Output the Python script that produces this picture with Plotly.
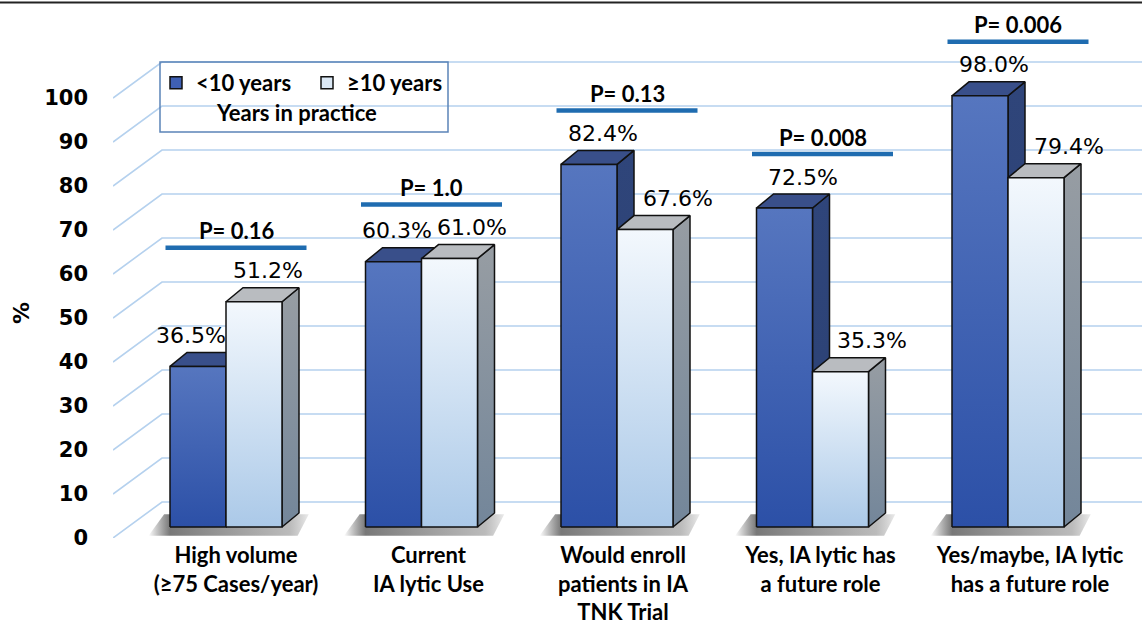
import plotly.graph_objects as go

# ---------------- data ----------------
categories = [
    "High volume<br>(≥75 Cases/year)",
    "Current<br>IA lytic Use",
    "Would enroll<br>patients in IA<br>TNK Trial",
    "Yes, IA lytic has<br>a future role",
    "Yes/maybe, IA lytic<br>has a future role",
]
under10 = [36.5, 60.3, 82.4, 72.5, 98.0]
over10 = [51.2, 61.0, 67.6, 35.3, 79.4]
p_values = ["P= 0.16", "P= 1.0", "P= 0.13", "P= 0.008", "P= 0.006"]
series_names = ["<10 years", "≥10 years"]
legend_title = "Years in practice"
y_ticks = list(range(0, 101, 10))

# ---------------- geometry / style ----------------
W, H = 1142, 627
L, T, B = 113, 5, 538           # plot area edges in px
PX_Y = 4.4                      # px per % unit
PX_X = 195.5                    # px per category
Y_TOP = (B - T) / PX_Y
X0 = -(226 - L) / PX_X
X1 = X0 + (W - L) / PX_X

BAR_W = 56 / PX_X
BASE = 11 / PX_Y                # bars sit a bit behind the front edge of floor
DDX, DDY = 17 / PX_X, 14 / PX_Y  # bar depth
WALL_DX, WALL_DY = 49 / PX_X, 36 / PX_Y
P_GAP = 54 / PX_Y
P_DX = 10 / PX_X
P_HALF = 70.5 / PX_X

label_xshift = [[-7, 3, 14, 18, 14], [14, 22, 33, 31, 33]]
cat_label_shift_px = [10, 7, 6, 8, 22]

styles = [
    dict(front_top="#5676bf", front_bot="#2c50a7", top="#394f8a", side_top="#2f457a", side_bot="#2b4174",
         legend="#3f60b4"),
    dict(front_top="#f3f8fd", front_bot="#abc9e8", top="#b9bcc0", side_top="#979da3", side_bot="#73869a",
         legend="#dbe8f5"),
]
OUTLINE = dict(color="#111111", width=1.5)

fig = go.Figure()

# back wall / side wall gridlines
gx, gy = [], []
for v in y_ticks:
    gx += [X0, X0 + WALL_DX, X1, None]
    gy += [v, v + WALL_DY, v + WALL_DY, None]
fig.add_trace(go.Scatter(x=gx, y=gy, mode="lines", line=dict(color="#b5d1ee", width=1.6),
                         hoverinfo="skip", showlegend=False))

# floor shadows under each group
for i in range(len(categories)):
    xl, xr = i - BAR_W, i + BAR_W
    sx = [xl - 0.11, xr + 0.08, xr + DDX + 0.05, xl - 0.03, xl - 0.11]
    sy = [0.5, 0.5, BASE + DDY - 0.3, BASE + DDY - 0.3, 0.5]
    fig.add_trace(go.Scatter(
        x=sx, y=sy, mode="lines", fill="toself", line=dict(width=0, color="rgba(0,0,0,0)"),
        fillgradient=dict(type="horizontal", start=xl - 0.11, stop=xr + DDX + 0.08,
                          colorscale=[[0, "rgba(0,0,0,0)"], [0.13, "rgba(30,30,30,0.6)"],
                                      [0.85, "rgba(60,60,60,0.35)"], [1, "rgba(0,0,0,0)"]]),
        hoverinfo="skip", showlegend=False))


def add_bar(xl, v, st):
    xr = xl + BAR_W
    top = BASE + v
    # side face
    fig.add_trace(go.Scatter(
        x=[xr, xr + DDX, xr + DDX, xr, xr], y=[BASE, BASE + DDY, top + DDY, top, BASE],
        mode="lines", fill="toself", line=OUTLINE,
        fillgradient=dict(type="vertical", start=BASE, stop=top + DDY,
                          colorscale=[[0, st["side_bot"]], [1, st["side_top"]]]),
        hoverinfo="skip", showlegend=False))
    # top face
    fig.add_trace(go.Scatter(
        x=[xl, xr, xr + DDX, xl + DDX, xl], y=[top, top, top + DDY, top + DDY, top],
        mode="lines", fill="toself", fillcolor=st["top"], line=OUTLINE,
        hoverinfo="skip", showlegend=False))
    # front face
    fig.add_trace(go.Scatter(
        x=[xl, xr, xr, xl, xl], y=[BASE, BASE, top, top, BASE],
        mode="lines", fill="toself", line=OUTLINE,
        fillgradient=dict(type="vertical", start=BASE, stop=top,
                          colorscale=[[0, st["front_bot"]], [1, st["front_top"]]]),
        hovertemplate="%{text}<extra></extra>", text=[f"{v:.1f}%"] * 5,
        showlegend=False))


for i in range(len(categories)):
    add_bar(i - BAR_W, under10[i], styles[0])
    add_bar(i, over10[i], styles[1])

# legend entries
for j, name in enumerate(series_names):
    fig.add_trace(go.Bar(x=[None], y=[None], name=name,
                         marker=dict(color=styles[j]["legend"], line=dict(color="#111111", width=1.5))))

annotations = []
# value labels
for j, series in enumerate([under10, over10]):
    for i, v in enumerate(series):
        xc = i - BAR_W / 2 if j == 0 else i + BAR_W / 2
        annotations.append(dict(x=xc, y=BASE + v, text=f"{v:.1f}%", showarrow=False,
                                xshift=label_xshift[j][i], yshift=31,
                                xanchor="center", yanchor="middle",
                                font=dict(family="DejaVu Sans", size=22, color="black")))

# p-value lines and labels
for i, p in enumerate(p_values):
    xc = i + P_DX
    yl = BASE + max(under10[i], over10[i]) + P_GAP
    fig.add_trace(go.Scatter(x=[xc - P_HALF, xc + P_HALF], y=[yl, yl], mode="lines",
                             line=dict(color="#1f6cb0", width=4.5), hoverinfo="skip", showlegend=False))
    annotations.append(dict(x=xc, y=yl, text=p, showarrow=False, yshift=17,
                            xanchor="center", yanchor="middle",
                            font=dict(family="Lato", size=22, color="black", weight="bold")))


def paper_x(px):
    return (px - L) / (W - L)


def paper_y(py):
    return (B - py) / (B - T)


annotations.append(dict(x=paper_x(296), y=paper_y(112), xref="paper", yref="paper",
                        text=legend_title, showarrow=False, xanchor="center", yanchor="middle",
                        font=dict(family="Lato", size=22, color="black", weight="bold")))
annotations.append(dict(x=paper_x(21), y=paper_y(313), xref="paper", yref="paper", text="%",
                        textangle=-90, showarrow=False, xanchor="center", yanchor="middle",
                        font=dict(family="DejaVu Sans", size=22, color="black", weight="bold")))

shapes = [
    dict(type="rect", xref="paper", yref="paper", x0=paper_x(160), x1=paper_x(448),
         y0=paper_y(132), y1=paper_y(62), line=dict(color="#5b84b8", width=1.5)),
    dict(type="line", xref="paper", yref="paper", x0=paper_x(0), x1=paper_x(W),
         y0=paper_y(2.5), y1=paper_y(2.5), line=dict(color="#222222", width=2)),
]

fig.update_layout(
    width=W, height=H,
    margin=dict(l=L, r=0, t=T, b=H - B, pad=0),
    paper_bgcolor="white", plot_bgcolor="white",
    showlegend=True,
    legend=dict(orientation="h", x=paper_x(156), y=paper_y(62), xanchor="left", yanchor="top",
                bgcolor="rgba(0,0,0,0)", borderwidth=0, traceorder="normal",
                font=dict(family="Lato", size=22, color="black", weight="bold"),
                itemwidth=30, entrywidth=106, entrywidthmode="pixels"),
    annotations=annotations,
    shapes=shapes,
    xaxis=dict(range=[X0, X1],
               tickvals=[i + s / PX_X for i, s in enumerate(cat_label_shift_px)],
               ticktext=categories,
               showgrid=False, zeroline=False, showline=False, ticks="",
               ticklabelstandoff=2,
               tickfont=dict(family="Lato", size=22, color="black", weight="bold")),
    yaxis=dict(range=[0, Y_TOP], tickvals=y_ticks, showgrid=False, zeroline=False, showline=False,
               ticks="", ticklabelstandoff=24,
               tickfont=dict(family="DejaVu Sans", size=21, color="black", weight="bold")),
)

fig.write_html("out.html", config={"displayModeBar": False},
               post_script="document.body.style.margin='0';document.body.style.overflow='hidden';")
